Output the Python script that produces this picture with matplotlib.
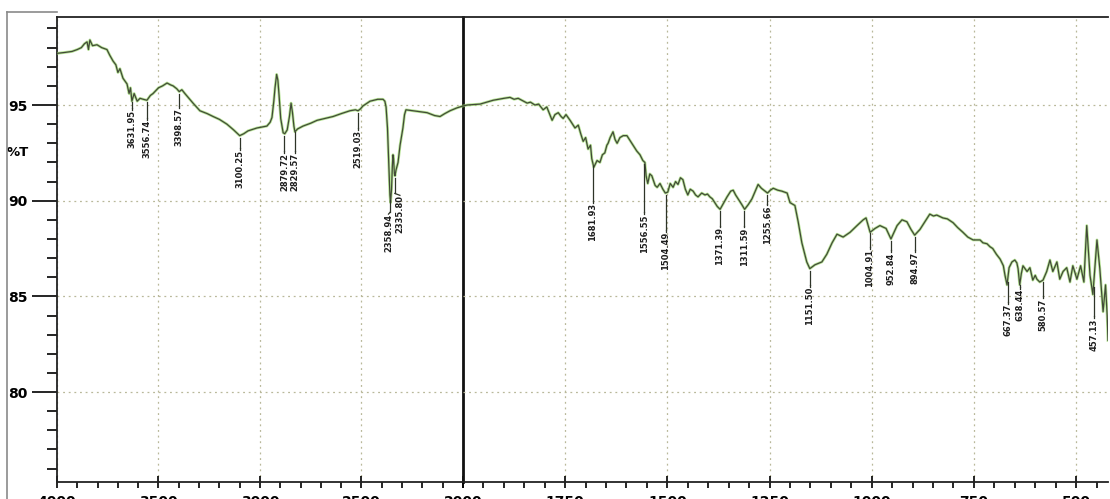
import numpy as np
import matplotlib
matplotlib.use("Agg")
import matplotlib.pyplot as plt
from matplotlib.lines import Line2D
from matplotlib.ticker import MultipleLocator, FixedLocator

# FTIR spectrum: wavenumber (cm-1) and transmittance (%T)
wavenumber = [
    4000, 3960, 3926, 3900, 3880, 3865, 3852, 3845, 3838, 3825, 3803, 3780, 3754, 3740,
    3724, 3710, 3700, 3690, 3675, 3655, 3645, 3638, 3631, 3620, 3605, 3591, 3575, 3557,
    3540, 3527, 3500, 3480, 3458, 3440, 3428, 3410, 3398, 3385, 3370, 3330, 3296, 3260,
    3231, 3200, 3163, 3130, 3100, 3080, 3059, 3015, 2966, 2950, 2941, 2932, 2926, 2918,
    2912, 2906, 2898, 2886, 2878, 2866, 2855, 2847, 2840, 2833, 2828, 2815, 2788, 2750,
    2719, 2680, 2640, 2600, 2557, 2530, 2517, 2505, 2493, 2458, 2420, 2394, 2385, 2379,
    2372, 2366, 2360, 2357, 2352, 2348, 2345, 2342, 2338, 2335, 2330, 2320, 2310, 2296,
    2288, 2281, 2246, 2210, 2177, 2140, 2113, 2090, 2064, 2030, 2000,
    1990, 1958, 1926, 1900, 1885, 1875, 1865, 1843, 1835, 1824, 1815, 1804, 1795, 1782,
    1775, 1767, 1760, 1755, 1748, 1738, 1726, 1718, 1712, 1706, 1700, 1694, 1688, 1685,
    1680, 1672, 1665, 1659, 1653, 1648, 1645, 1640, 1633, 1628, 1623, 1616, 1608, 1599,
    1590, 1584, 1575, 1567, 1560, 1555, 1552, 1548, 1543, 1538, 1530, 1525, 1518, 1511,
    1505, 1499, 1493, 1486, 1480, 1474, 1468, 1462, 1456, 1450, 1444, 1437, 1431, 1425,
    1416, 1408, 1402, 1396, 1390, 1384, 1378, 1371, 1362, 1354, 1345, 1339, 1333, 1327,
    1318, 1311, 1302, 1293, 1285, 1278, 1270, 1261, 1255, 1248, 1241, 1230, 1220, 1207,
    1200, 1188, 1180, 1171, 1159, 1151.5, 1139, 1122, 1110, 1097, 1085, 1070, 1053, 1036,
    1021, 1014, 1004, 992, 980, 965, 953, 938, 926, 914, 904, 895, 882, 870, 858, 849,
    841, 826, 815, 801, 790, 777, 765, 752, 735, 728, 718, 711, 704, 695, 686, 678, 674,
    669, 664, 657, 650, 645, 642, 638, 634, 630, 620, 613, 606, 600, 596, 589, 581, 572,
    564, 557, 547, 540, 532, 523, 515, 508, 498, 489, 481, 474, 466, 459, 449, 442, 434,
    428, 424, 422,
]
transmittance = [
    97.7, 97.75, 97.8, 97.9, 98.0, 98.2, 98.3, 97.9, 98.4, 98.1, 98.15, 98.0, 97.9, 97.6,
    97.3, 97.1, 96.7, 96.9, 96.4, 96.1, 95.6, 95.9, 95.2, 95.6, 95.2, 95.35, 95.3, 95.25,
    95.5, 95.6, 95.9, 96.0, 96.15, 96.05, 96.0, 95.85, 95.7, 95.8, 95.6, 95.1, 94.7, 94.55,
    94.4, 94.25, 94.0, 93.7, 93.4, 93.5, 93.65, 93.8, 93.9, 94.1, 94.35, 95.2, 95.9, 96.6,
    96.3, 95.5, 94.3, 93.55, 93.5, 93.7, 94.4, 95.1, 94.6, 93.9, 93.6, 93.75, 93.9, 94.05,
    94.2, 94.3, 94.4, 94.55, 94.7, 94.75, 94.7, 94.8, 94.95, 95.2, 95.3, 95.3, 95.2, 94.9,
    93.8, 92.0, 90.3, 89.9, 90.6, 91.8, 92.4, 92.2, 91.4, 91.3, 91.6, 92.0, 92.9, 93.8,
    94.5, 94.75, 94.7, 94.65, 94.6, 94.45, 94.4, 94.55, 94.7, 94.85, 94.95,
    95.0, 95.05, 95.25, 95.35, 95.4, 95.3, 95.35, 95.1, 95.15, 95.0, 95.05, 94.75, 94.9, 94.2,
    94.5, 94.6, 94.4, 94.3, 94.5, 94.2, 93.8, 93.95, 93.5, 93.1, 93.3, 92.7, 92.9, 92.2,
    91.75, 92.1, 92.0, 92.4, 92.5, 92.9, 93.0, 93.3, 93.6, 93.2, 93.0, 93.3, 93.4, 93.4,
    93.1, 92.9, 92.6, 92.4, 92.1, 92.0, 91.3, 90.9, 91.4, 91.3, 90.8, 90.7, 90.9, 90.6,
    90.4, 90.45, 90.9, 90.7, 91.0, 90.85, 91.2, 91.1, 90.6, 90.3, 90.6, 90.5, 90.3, 90.2,
    90.4, 90.3, 90.35, 90.2, 90.1, 89.9, 89.7, 89.55, 89.9, 90.2, 90.5, 90.55, 90.3, 90.1,
    89.8, 89.55, 89.8, 90.1, 90.5, 90.85, 90.65, 90.5, 90.4, 90.55, 90.65, 90.55, 90.5, 90.4,
    89.9, 89.75, 88.9, 87.8, 86.8, 86.45, 86.65, 86.8, 87.2, 87.8, 88.25, 88.1, 88.35, 88.7,
    89.0, 89.1, 88.35, 88.55, 88.7, 88.55, 88.0, 88.7, 89.0, 88.9, 88.5, 88.2, 88.5, 88.9, 89.3, 89.2,
    89.25, 89.1, 89.05, 88.85, 88.6, 88.35, 88.1, 87.95, 87.95, 87.8, 87.75, 87.6, 87.5, 87.2, 86.95, 86.6, 86.1,
    85.6, 86.5, 86.8, 86.9, 86.75, 86.45, 85.6, 86.2, 86.6, 86.3, 86.5, 85.85, 86.1, 85.9, 85.75, 85.85, 86.3,
    86.9, 86.3, 86.8, 85.9, 86.3, 86.5, 85.75, 86.6, 85.9, 86.6, 85.75, 88.7, 86.1, 85.1, 87.95, 86.45, 84.2,
    85.6, 84.0, 82.7,
]

# Peak labels and where their text starts (in %T)
peak_wn = [3631.95, 3556.74, 3398.57, 3100.25, 2879.72, 2829.57, 2519.03, 2358.94, 2335.80,
           1681.93, 1556.55, 1504.49, 1371.39, 1311.59, 1255.66, 1151.50, 1004.91, 952.84,
           894.97, 667.37, 638.44, 580.57, 457.13]
peak_text_top = [94.74, 94.22, 94.84, 92.66, 92.5, 92.5, 93.7, 89.3, 90.28,
                 89.9, 89.3, 88.36, 88.6, 88.6, 89.75, 85.5, 87.5, 87.3,
                 87.3, 84.6, 85.4, 84.9, 83.85]
# labels that the instrument pushed sideways (cm-1, added to the peak position)
peak_text_shift = {2358.94: 8, 2335.80: -25}

y_ticks = [80, 85, 90, 95]
left_ticks = [4000, 3500, 3000, 2500, 2000]
right_ticks = [1750, 1500, 1250, 1000, 750, 500]

W, H = 1110, 499
fig = plt.figure(figsize=(W / 100, H / 100), dpi=100)
fig.patch.set_facecolor("white")

ax_l = fig.add_axes([57 / W, 17 / H, 406 / W, 465 / H])
ax_r = fig.add_axes([463 / W, 17 / H, 645 / W, 465 / H])
ax_r.patch.set_alpha(0)

wn = np.array(wavenumber, dtype=float)
tr = np.array(transmittance, dtype=float)
curve_x, curve_y = wn[::-1], tr[::-1]

grid_kw = dict(color="#b9b89a", lw=0.9, ls=(0, (1.5, 3)))

for ax, lim, ticks, minor in [(ax_l, (4000, 2000), left_ticks, 100),
                              (ax_r, (2000, 422), right_ticks, 50)]:
    ax.set_xlim(*lim)
    ax.set_ylim(75.3, 99.6)
    ax.plot(wn, tr, color="#8ed45a", lw=2.0, alpha=0.65, zorder=3)
    ax.plot(wn, tr, color="#424a38", lw=0.9, zorder=4)
    ax.xaxis.set_major_locator(FixedLocator(ticks))
    ax.xaxis.set_minor_locator(MultipleLocator(minor))
    ax.set_yticks(y_ticks)
    ax.yaxis.set_minor_locator(MultipleLocator(1))
    ax.grid(True, which="major", **grid_kw)
    ax.set_axisbelow(True)
    ax.tick_params(axis="x", which="major", direction="inout", length=8, width=1.2, pad=5)
    ax.tick_params(axis="x", which="minor", direction="out", length=4, width=1.2)
    for lab in ax.get_xticklabels():
        lab.set_fontsize(10)
        lab.set_fontweight("bold")
    for s in ax.spines.values():
        s.set_linewidth(1.3)
        s.set_color("#222222")

    # peak markers with rotated values
    for p, top in zip(peak_wn, peak_text_top):
        if not (min(lim) < p < max(lim)):
            continue
        val = np.interp(p, curve_x, curve_y)
        tx = p + peak_text_shift.get(p, 0)
        ax.plot([p, p], [val - 0.12, top + 0.1], color="#2e3428", lw=0.9, zorder=5)
        ax.plot([p, tx], [top + 0.1, top], color="#2e3428", lw=0.9, zorder=5)
        ax.text(tx, top, f"{p:.2f}", rotation=90, ha="center", va="top",
                fontsize=6, fontweight="bold", color="#1e1e1e", zorder=6)

ax_l.tick_params(axis="y", which="major", direction="out", length=18, width=1.2, pad=3)
ax_l.tick_params(axis="y", which="minor", direction="out", length=7, width=1.2)
for lab in ax_l.get_yticklabels():
    lab.set_fontsize(10)
    lab.set_fontweight("bold")
ax_l.spines["right"].set_linewidth(2.0)
ax_l.spines["right"].set_color("#111111")
ax_l.text(-0.125, 92.5, "%T", transform=ax_l.get_yaxis_transform(),
          ha="left", va="center", fontsize=9.5, fontweight="bold")

ax_r.tick_params(axis="y", which="both", left=False, labelleft=False)
ax_r.spines["left"].set_visible(False)
ax_r.spines["right"].set_visible(False)

# scanned page frame
fig.add_artist(Line2D([7 / W, 7 / W], [0, 1 - 12 / H], color="#8a8a8a", lw=1.2))
fig.add_artist(Line2D([7 / W, 57 / W], [1 - 12 / H, 1 - 12 / H], color="#8a8a8a", lw=1.2))

fig.savefig("out.png", dpi=100)
plt.close(fig)
